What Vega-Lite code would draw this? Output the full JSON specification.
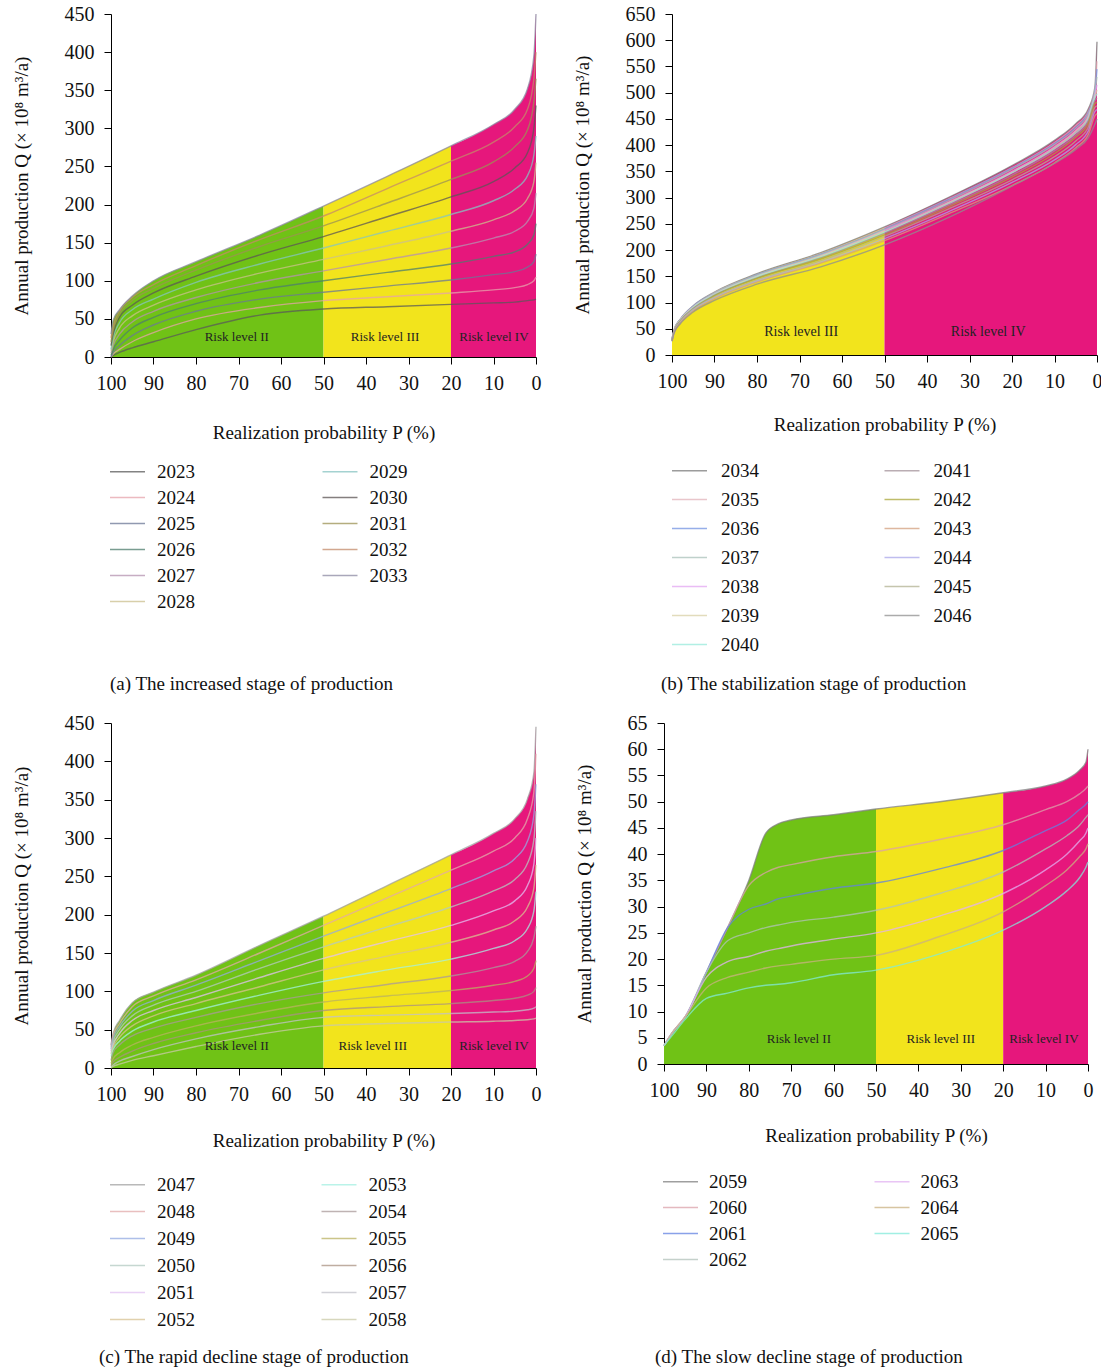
{
"$schema": "https://vega.github.io/schema/vega-lite/v6.json",
"padding": {"left": 12, "top": 4, "right": 0, "bottom": 0},
"config": {
  "font": "Liberation Serif",
  "view": {"stroke": null},
  "axis": {"labelFontSize": 20, "titleFontSize": 19, "titleFontWeight": "normal", "tickSize": 7, "labelPadding": 9, "domainColor": "#000", "tickColor": "#000", "labelColor": "#111", "titleColor": "#111", "grid": false, "labelFlush": false, "labelOverlap": false},
  "axisY": {"labelPadding": 10},
  "legend": {"orient": "none", "columns": 2, "symbolType": "M-2,0H2", "symbolSize": 306, "symbolStrokeWidth": 1.5, "labelFontSize": 19, "labelColor": "#111", "titleOrient": "bottom", "titleAnchor": "start", "titleFontSize": 19, "titleFontWeight": "normal", "titleColor": "#111", "titleLimit": 600, "padding": 0}
},
"resolve": {"scale": {"stroke": "independent", "fill": "independent", "x": "independent", "y": "independent"}, "legend": {"stroke": "independent", "fill": "independent"}},
"datasets": {
"envA": [{"p":100,"q":30,"z":"II"},{"p":99.5,"q":48,"z":"II"},{"p":98,"q":62,"z":"II"},{"p":95,"q":80,"z":"II"},{"p":90,"q":100,"z":"II"},{"p":80,"q":125,"z":"II"},{"p":65,"q":160,"z":"II"},{"p":50,"q":198,"z":"II"},
{"p":50,"q":198,"z":"III"},{"p":35,"q":237,"z":"III"},{"p":20,"q":277,"z":"III"},
{"p":20,"q":277,"z":"IV"},{"p":10,"q":305,"z":"IV"},{"p":5,"q":325,"z":"IV"},{"p":2,"q":352,"z":"IV"},{"p":0.5,"q":395,"z":"IV"},{"p":0,"q":450,"z":"IV"}],
"lblA": [{"p":70.4,"q":26,"t":"Risk level II"},{"p":35.5,"q":26,"t":"Risk level III"},{"p":9.9,"q":26,"t":"Risk level IV"}],
"linA": [
{"p":100,"q":0,"yr":2023},{"p":99.5,"q":2,"yr":2023},{"p":98,"q":6,"yr":2023},{"p":95,"q":12,"yr":2023},{"p":90,"q":20,"yr":2023},{"p":80,"q":36,"yr":2023},{"p":65,"q":55,"yr":2023},{"p":50,"q":63,"yr":2023},{"p":35,"q":66,"yr":2023},{"p":20,"q":69,"yr":2023},{"p":10,"q":71,"yr":2023},{"p":5,"q":72,"yr":2023},{"p":2,"q":74,"yr":2023},{"p":0.5,"q":75,"yr":2023},{"p":0,"q":76,"yr":2023},
{"p":100,"q":0,"yr":2024},{"p":99.5,"q":4,"yr":2024},{"p":98,"q":10,"yr":2024},{"p":95,"q":20,"yr":2024},{"p":90,"q":32,"yr":2024},{"p":80,"q":50,"yr":2024},{"p":65,"q":65,"yr":2024},{"p":50,"q":74,"yr":2024},{"p":35,"q":79,"yr":2024},{"p":20,"q":84,"yr":2024},{"p":10,"q":88,"yr":2024},{"p":5,"q":91,"yr":2024},{"p":2,"q":95,"yr":2024},{"p":0.5,"q":100,"yr":2024},{"p":0,"q":105,"yr":2024},
{"p":100,"q":0,"yr":2025},{"p":99.5,"q":6,"yr":2025},{"p":98,"q":15,"yr":2025},{"p":95,"q":28,"yr":2025},{"p":90,"q":42,"yr":2025},{"p":80,"q":60,"yr":2025},{"p":65,"q":76,"yr":2025},{"p":50,"q":85,"yr":2025},{"p":35,"q":93,"yr":2025},{"p":20,"q":101,"yr":2025},{"p":10,"q":108,"yr":2025},{"p":5,"q":112,"yr":2025},{"p":2,"q":118,"yr":2025},{"p":0.5,"q":125,"yr":2025},{"p":0,"q":135,"yr":2025},
{"p":100,"q":2,"yr":2026},{"p":99.5,"q":10,"yr":2026},{"p":98,"q":22,"yr":2026},{"p":95,"q":38,"yr":2026},{"p":90,"q":52,"yr":2026},{"p":80,"q":70,"yr":2026},{"p":65,"q":88,"yr":2026},{"p":50,"q":100,"yr":2026},{"p":35,"q":111,"yr":2026},{"p":20,"q":122,"yr":2026},{"p":10,"q":132,"yr":2026},{"p":5,"q":138,"yr":2026},{"p":2,"q":148,"yr":2026},{"p":0.5,"q":160,"yr":2026},{"p":0,"q":175,"yr":2026},
{"p":100,"q":5,"yr":2027},{"p":99.5,"q":15,"yr":2027},{"p":98,"q":30,"yr":2027},{"p":95,"q":46,"yr":2027},{"p":90,"q":60,"yr":2027},{"p":80,"q":78,"yr":2027},{"p":65,"q":98,"yr":2027},{"p":50,"q":113,"yr":2027},{"p":35,"q":128,"yr":2027},{"p":20,"q":143,"yr":2027},{"p":10,"q":156,"yr":2027},{"p":5,"q":165,"yr":2027},{"p":2,"q":178,"yr":2027},{"p":0.5,"q":195,"yr":2027},{"p":0,"q":215,"yr":2027},
{"p":100,"q":8,"yr":2028},{"p":99.5,"q":20,"yr":2028},{"p":98,"q":38,"yr":2028},{"p":95,"q":54,"yr":2028},{"p":90,"q":68,"yr":2028},{"p":80,"q":88,"yr":2028},{"p":65,"q":110,"yr":2028},{"p":50,"q":128,"yr":2028},{"p":35,"q":146,"yr":2028},{"p":20,"q":165,"yr":2028},{"p":10,"q":180,"yr":2028},{"p":5,"q":192,"yr":2028},{"p":2,"q":208,"yr":2028},{"p":0.5,"q":230,"yr":2028},{"p":0,"q":255,"yr":2028},
{"p":100,"q":10,"yr":2029},{"p":99.5,"q":25,"yr":2029},{"p":98,"q":45,"yr":2029},{"p":95,"q":62,"yr":2029},{"p":90,"q":76,"yr":2029},{"p":80,"q":98,"yr":2029},{"p":65,"q":122,"yr":2029},{"p":50,"q":143,"yr":2029},{"p":35,"q":165,"yr":2029},{"p":20,"q":187,"yr":2029},{"p":10,"q":205,"yr":2029},{"p":5,"q":220,"yr":2029},{"p":2,"q":238,"yr":2029},{"p":0.5,"q":265,"yr":2029},{"p":0,"q":290,"yr":2029},
{"p":100,"q":15,"yr":2030},{"p":99.5,"q":30,"yr":2030},{"p":98,"q":52,"yr":2030},{"p":95,"q":68,"yr":2030},{"p":90,"q":84,"yr":2030},{"p":80,"q":106,"yr":2030},{"p":65,"q":134,"yr":2030},{"p":50,"q":158,"yr":2030},{"p":35,"q":184,"yr":2030},{"p":20,"q":210,"yr":2030},{"p":10,"q":230,"yr":2030},{"p":5,"q":248,"yr":2030},{"p":2,"q":268,"yr":2030},{"p":0.5,"q":300,"yr":2030},{"p":0,"q":330,"yr":2030},
{"p":100,"q":20,"yr":2031},{"p":99.5,"q":35,"yr":2031},{"p":98,"q":56,"yr":2031},{"p":95,"q":74,"yr":2031},{"p":90,"q":90,"yr":2031},{"p":80,"q":114,"yr":2031},{"p":65,"q":145,"yr":2031},{"p":50,"q":172,"yr":2031},{"p":35,"q":202,"yr":2031},{"p":20,"q":233,"yr":2031},{"p":10,"q":256,"yr":2031},{"p":5,"q":276,"yr":2031},{"p":2,"q":298,"yr":2031},{"p":0.5,"q":335,"yr":2031},{"p":0,"q":365,"yr":2031},
{"p":100,"q":25,"yr":2032},{"p":99.5,"q":40,"yr":2032},{"p":98,"q":60,"yr":2032},{"p":95,"q":78,"yr":2032},{"p":90,"q":95,"yr":2032},{"p":80,"q":120,"yr":2032},{"p":65,"q":154,"yr":2032},{"p":50,"q":185,"yr":2032},{"p":35,"q":221,"yr":2032},{"p":20,"q":257,"yr":2032},{"p":10,"q":282,"yr":2032},{"p":5,"q":302,"yr":2032},{"p":2,"q":325,"yr":2032},{"p":0.5,"q":365,"yr":2032},{"p":0,"q":400,"yr":2032},
{"p":100,"q":30,"yr":2033},{"p":99.5,"q":48,"yr":2033},{"p":98,"q":62,"yr":2033},{"p":95,"q":80,"yr":2033},{"p":90,"q":100,"yr":2033},{"p":80,"q":125,"yr":2033},{"p":65,"q":160,"yr":2033},{"p":50,"q":198,"yr":2033},{"p":35,"q":237,"yr":2033},{"p":20,"q":277,"yr":2033},{"p":10,"q":305,"yr":2033},{"p":5,"q":325,"yr":2033},{"p":2,"q":352,"yr":2033},{"p":0.5,"q":395,"yr":2033},{"p":0,"q":450,"yr":2033}
],
"envB": [{"p":100,"q":30,"z":"III"},{"p":99.5,"q":48,"z":"III"},{"p":98,"q":69,"z":"III"},{"p":95,"q":94,"z":"III"},{"p":90,"q":120,"z":"III"},{"p":80,"q":155,"z":"III"},{"p":65,"q":195,"z":"III"},{"p":50,"q":244,"z":"III"},
{"p":50,"q":244,"z":"IV"},{"p":35,"q":300,"z":"IV"},{"p":20,"q":361,"z":"IV"},{"p":10,"q":409,"z":"IV"},{"p":5,"q":441,"z":"IV"},{"p":2,"q":470,"z":"IV"},{"p":0.5,"q":510,"z":"IV"},{"p":0,"q":597,"z":"IV"}],
"lblB": [{"p":69.6,"q":44,"t":"Risk level III"},{"p":25.6,"q":44,"t":"Risk level IV"}],
"linB": [
{"p":100,"q":30,"yr":2034},{"p":99.5,"q":48,"yr":2034},{"p":98,"q":69,"yr":2034},{"p":95,"q":94,"yr":2034},{"p":90,"q":120,"yr":2034},{"p":80,"q":155,"yr":2034},{"p":65,"q":195,"yr":2034},{"p":50,"q":244,"yr":2034},{"p":35,"q":300,"yr":2034},{"p":20,"q":361,"yr":2034},{"p":10,"q":409,"yr":2034},{"p":5,"q":441,"yr":2034},{"p":2,"q":470,"yr":2034},{"p":0.5,"q":510,"yr":2034},{"p":0,"q":597,"yr":2034},
{"p":100,"q":30,"yr":2035},{"p":99.5,"q":48,"yr":2035},{"p":98,"q":68,"yr":2035},{"p":95,"q":93,"yr":2035},{"p":90,"q":119,"yr":2035},{"p":80,"q":153,"yr":2035},{"p":65,"q":193,"yr":2035},{"p":50,"q":242,"yr":2035},{"p":35,"q":297,"yr":2035},{"p":20,"q":357,"yr":2035},{"p":10,"q":405,"yr":2035},{"p":5,"q":437,"yr":2035},{"p":2,"q":465,"yr":2035},{"p":0.5,"q":505,"yr":2035},{"p":0,"q":560,"yr":2035},
{"p":100,"q":30,"yr":2036},{"p":99.5,"q":47,"yr":2036},{"p":98,"q":68,"yr":2036},{"p":95,"q":93,"yr":2036},{"p":90,"q":118,"yr":2036},{"p":80,"q":153,"yr":2036},{"p":65,"q":192,"yr":2036},{"p":50,"q":240,"yr":2036},{"p":35,"q":296,"yr":2036},{"p":20,"q":356,"yr":2036},{"p":10,"q":403,"yr":2036},{"p":5,"q":434,"yr":2036},{"p":2,"q":463,"yr":2036},{"p":0.5,"q":502,"yr":2036},{"p":0,"q":545,"yr":2036},
{"p":100,"q":29,"yr":2037},{"p":99.5,"q":47,"yr":2037},{"p":98,"q":68,"yr":2037},{"p":95,"q":92,"yr":2037},{"p":90,"q":118,"yr":2037},{"p":80,"q":152,"yr":2037},{"p":65,"q":191,"yr":2037},{"p":50,"q":239,"yr":2037},{"p":35,"q":294,"yr":2037},{"p":20,"q":354,"yr":2037},{"p":10,"q":401,"yr":2037},{"p":5,"q":432,"yr":2037},{"p":2,"q":461,"yr":2037},{"p":0.5,"q":500,"yr":2037},{"p":0,"q":530,"yr":2037},
{"p":100,"q":29,"yr":2038},{"p":99.5,"q":47,"yr":2038},{"p":98,"q":67,"yr":2038},{"p":95,"q":91,"yr":2038},{"p":90,"q":116,"yr":2038},{"p":80,"q":150,"yr":2038},{"p":65,"q":189,"yr":2038},{"p":50,"q":237,"yr":2038},{"p":35,"q":291,"yr":2038},{"p":20,"q":350,"yr":2038},{"p":10,"q":397,"yr":2038},{"p":5,"q":428,"yr":2038},{"p":2,"q":456,"yr":2038},{"p":0.5,"q":495,"yr":2038},{"p":0,"q":515,"yr":2038},
{"p":100,"q":29,"yr":2039},{"p":99.5,"q":46,"yr":2039},{"p":98,"q":67,"yr":2039},{"p":95,"q":91,"yr":2039},{"p":90,"q":116,"yr":2039},{"p":80,"q":150,"yr":2039},{"p":65,"q":188,"yr":2039},{"p":50,"q":235,"yr":2039},{"p":35,"q":290,"yr":2039},{"p":20,"q":348,"yr":2039},{"p":10,"q":395,"yr":2039},{"p":5,"q":426,"yr":2039},{"p":2,"q":454,"yr":2039},{"p":0.5,"q":492,"yr":2039},{"p":0,"q":505,"yr":2039},
{"p":100,"q":29,"yr":2040},{"p":99.5,"q":46,"yr":2040},{"p":98,"q":66,"yr":2040},{"p":95,"q":90,"yr":2040},{"p":90,"q":115,"yr":2040},{"p":80,"q":149,"yr":2040},{"p":65,"q":187,"yr":2040},{"p":50,"q":234,"yr":2040},{"p":35,"q":288,"yr":2040},{"p":20,"q":347,"yr":2040},{"p":10,"q":393,"yr":2040},{"p":5,"q":423,"yr":2040},{"p":2,"q":451,"yr":2040},{"p":0.5,"q":490,"yr":2040},{"p":0,"q":498,"yr":2040},
{"p":100,"q":28,"yr":2041},{"p":99.5,"q":46,"yr":2041},{"p":98,"q":66,"yr":2041},{"p":95,"q":89,"yr":2041},{"p":90,"q":114,"yr":2041},{"p":80,"q":147,"yr":2041},{"p":65,"q":185,"yr":2041},{"p":50,"q":232,"yr":2041},{"p":35,"q":285,"yr":2041},{"p":20,"q":343,"yr":2041},{"p":10,"q":389,"yr":2041},{"p":5,"q":419,"yr":2041},{"p":2,"q":447,"yr":2041},{"p":0.5,"q":485,"yr":2041},{"p":0,"q":490,"yr":2041},
{"p":100,"q":28,"yr":2042},{"p":99.5,"q":45,"yr":2042},{"p":98,"q":65,"yr":2042},{"p":95,"q":88,"yr":2042},{"p":90,"q":113,"yr":2042},{"p":80,"q":146,"yr":2042},{"p":65,"q":183,"yr":2042},{"p":50,"q":229,"yr":2042},{"p":35,"q":282,"yr":2042},{"p":20,"q":339,"yr":2042},{"p":10,"q":384,"yr":2042},{"p":5,"q":415,"yr":2042},{"p":2,"q":442,"yr":2042},{"p":0.5,"q":479,"yr":2042},{"p":0,"q":482,"yr":2042},
{"p":100,"q":28,"yr":2045},{"p":99.5,"q":44,"yr":2045},{"p":98,"q":64,"yr":2045},{"p":95,"q":87,"yr":2045},{"p":90,"q":111,"yr":2045},{"p":80,"q":143,"yr":2045},{"p":65,"q":180,"yr":2045},{"p":50,"q":226,"yr":2045},{"p":35,"q":278,"yr":2045},{"p":20,"q":334,"yr":2045},{"p":10,"q":378,"yr":2045},{"p":5,"q":408,"yr":2045},{"p":2,"q":435,"yr":2045},{"p":0.5,"q":472,"yr":2045},{"p":0,"q":475,"yr":2045},
{"p":100,"q":27,"yr":2044},{"p":99.5,"q":44,"yr":2044},{"p":98,"q":63,"yr":2044},{"p":95,"q":86,"yr":2044},{"p":90,"q":109,"yr":2044},{"p":80,"q":141,"yr":2044},{"p":65,"q":177,"yr":2044},{"p":50,"q":222,"yr":2044},{"p":35,"q":273,"yr":2044},{"p":20,"q":329,"yr":2044},{"p":10,"q":372,"yr":2044},{"p":5,"q":401,"yr":2044},{"p":2,"q":428,"yr":2044},{"p":0.5,"q":464,"yr":2044},{"p":0,"q":468,"yr":2044},
{"p":100,"q":27,"yr":2043},{"p":99.5,"q":43,"yr":2043},{"p":98,"q":62,"yr":2043},{"p":95,"q":84,"yr":2043},{"p":90,"q":107,"yr":2043},{"p":80,"q":139,"yr":2043},{"p":65,"q":175,"yr":2043},{"p":50,"q":218,"yr":2043},{"p":35,"q":269,"yr":2043},{"p":20,"q":323,"yr":2043},{"p":10,"q":366,"yr":2043},{"p":5,"q":395,"yr":2043},{"p":2,"q":421,"yr":2043},{"p":0.5,"q":456,"yr":2043},{"p":0,"q":460,"yr":2043},
{"p":100,"q":26,"yr":2046},{"p":99.5,"q":42,"yr":2046},{"p":98,"q":60,"yr":2046},{"p":95,"q":82,"yr":2046},{"p":90,"q":104,"yr":2046},{"p":80,"q":135,"yr":2046},{"p":65,"q":168,"yr":2046},{"p":50,"q":210,"yr":2046},{"p":35,"q":262,"yr":2046},{"p":20,"q":322,"yr":2046},{"p":10,"q":365,"yr":2046},{"p":5,"q":392,"yr":2046},{"p":2,"q":415,"yr":2046},{"p":0.5,"q":440,"yr":2046},{"p":0,"q":450,"yr":2046}
],
"envC": [{"p":100,"q":30,"z":"II"},{"p":99.5,"q":45,"z":"II"},{"p":98,"q":62,"z":"II"},{"p":95,"q":85,"z":"II"},{"p":90,"q":99,"z":"II"},{"p":80,"q":121,"z":"II"},{"p":65,"q":160,"z":"II"},{"p":50,"q":198,"z":"II"},
{"p":50,"q":198,"z":"III"},{"p":35,"q":238,"z":"III"},{"p":20,"q":278,"z":"III"},
{"p":20,"q":278,"z":"IV"},{"p":10,"q":306,"z":"IV"},{"p":5,"q":325,"z":"IV"},{"p":2,"q":351,"z":"IV"},{"p":0.5,"q":385,"z":"IV"},{"p":0,"q":445,"z":"IV"}],
"lblC": [{"p":70.4,"q":28.7,"t":"Risk level II"},{"p":38.4,"q":28.7,"t":"Risk level III"},{"p":9.9,"q":28.7,"t":"Risk level IV"}],
"linC": [
{"p":100,"q":30,"yr":2047},{"p":99.5,"q":45,"yr":2047},{"p":98,"q":62,"yr":2047},{"p":95,"q":85,"yr":2047},{"p":90,"q":99,"yr":2047},{"p":80,"q":121,"yr":2047},{"p":65,"q":160,"yr":2047},{"p":50,"q":198,"yr":2047},{"p":35,"q":238,"yr":2047},{"p":20,"q":278,"yr":2047},{"p":10,"q":306,"yr":2047},{"p":5,"q":325,"yr":2047},{"p":2,"q":351,"yr":2047},{"p":0.5,"q":385,"yr":2047},{"p":0,"q":445,"yr":2047},
{"p":100,"q":28,"yr":2048},{"p":99.5,"q":42,"yr":2048},{"p":98,"q":58,"yr":2048},{"p":95,"q":80,"yr":2048},{"p":90,"q":94,"yr":2048},{"p":80,"q":115,"yr":2048},{"p":65,"q":150,"yr":2048},{"p":50,"q":186,"yr":2048},{"p":35,"q":222,"yr":2048},{"p":20,"q":258,"yr":2048},{"p":10,"q":283,"yr":2048},{"p":5,"q":300,"yr":2048},{"p":2,"q":325,"yr":2048},{"p":0.5,"q":360,"yr":2048},{"p":0,"q":410,"yr":2048},
{"p":100,"q":25,"yr":2049},{"p":99.5,"q":38,"yr":2049},{"p":98,"q":54,"yr":2049},{"p":95,"q":74,"yr":2049},{"p":90,"q":88,"yr":2049},{"p":80,"q":108,"yr":2049},{"p":65,"q":140,"yr":2049},{"p":50,"q":172,"yr":2049},{"p":35,"q":203,"yr":2049},{"p":20,"q":234,"yr":2049},{"p":10,"q":257,"yr":2049},{"p":5,"q":273,"yr":2049},{"p":2,"q":296,"yr":2049},{"p":0.5,"q":330,"yr":2049},{"p":0,"q":370,"yr":2049},
{"p":100,"q":22,"yr":2050},{"p":99.5,"q":34,"yr":2050},{"p":98,"q":50,"yr":2050},{"p":95,"q":68,"yr":2050},{"p":90,"q":82,"yr":2050},{"p":80,"q":100,"yr":2050},{"p":65,"q":130,"yr":2050},{"p":50,"q":158,"yr":2050},{"p":35,"q":184,"yr":2050},{"p":20,"q":210,"yr":2050},{"p":10,"q":231,"yr":2050},{"p":5,"q":246,"yr":2050},{"p":2,"q":267,"yr":2050},{"p":0.5,"q":298,"yr":2050},{"p":0,"q":335,"yr":2050},
{"p":100,"q":20,"yr":2051},{"p":99.5,"q":30,"yr":2051},{"p":98,"q":45,"yr":2051},{"p":95,"q":62,"yr":2051},{"p":90,"q":75,"yr":2051},{"p":80,"q":92,"yr":2051},{"p":65,"q":118,"yr":2051},{"p":50,"q":143,"yr":2051},{"p":35,"q":165,"yr":2051},{"p":20,"q":186,"yr":2051},{"p":10,"q":205,"yr":2051},{"p":5,"q":218,"yr":2051},{"p":2,"q":238,"yr":2051},{"p":0.5,"q":266,"yr":2051},{"p":0,"q":300,"yr":2051},
{"p":100,"q":18,"yr":2052},{"p":99.5,"q":27,"yr":2052},{"p":98,"q":40,"yr":2052},{"p":95,"q":55,"yr":2052},{"p":90,"q":68,"yr":2052},{"p":80,"q":84,"yr":2052},{"p":65,"q":106,"yr":2052},{"p":50,"q":128,"yr":2052},{"p":35,"q":146,"yr":2052},{"p":20,"q":164,"yr":2052},{"p":10,"q":180,"yr":2052},{"p":5,"q":192,"yr":2052},{"p":2,"q":210,"yr":2052},{"p":0.5,"q":235,"yr":2052},{"p":0,"q":265,"yr":2052},
{"p":100,"q":15,"yr":2053},{"p":99.5,"q":24,"yr":2053},{"p":98,"q":35,"yr":2053},{"p":95,"q":48,"yr":2053},{"p":90,"q":60,"yr":2053},{"p":80,"q":75,"yr":2053},{"p":65,"q":95,"yr":2053},{"p":50,"q":113,"yr":2053},{"p":35,"q":128,"yr":2053},{"p":20,"q":142,"yr":2053},{"p":10,"q":156,"yr":2053},{"p":5,"q":166,"yr":2053},{"p":2,"q":182,"yr":2053},{"p":0.5,"q":205,"yr":2053},{"p":0,"q":230,"yr":2053},
{"p":100,"q":10,"yr":2054},{"p":99.5,"q":20,"yr":2054},{"p":98,"q":30,"yr":2054},{"p":95,"q":42,"yr":2054},{"p":90,"q":52,"yr":2054},{"p":80,"q":66,"yr":2054},{"p":65,"q":84,"yr":2054},{"p":50,"q":98,"yr":2054},{"p":35,"q":109,"yr":2054},{"p":20,"q":120,"yr":2054},{"p":10,"q":131,"yr":2054},{"p":5,"q":139,"yr":2054},{"p":2,"q":152,"yr":2054},{"p":0.5,"q":170,"yr":2054},{"p":0,"q":185,"yr":2054},
{"p":100,"q":6,"yr":2055},{"p":99.5,"q":12,"yr":2055},{"p":98,"q":20,"yr":2055},{"p":95,"q":30,"yr":2055},{"p":90,"q":40,"yr":2055},{"p":80,"q":55,"yr":2055},{"p":65,"q":72,"yr":2055},{"p":50,"q":86,"yr":2055},{"p":35,"q":94,"yr":2055},{"p":20,"q":101,"yr":2055},{"p":10,"q":108,"yr":2055},{"p":5,"q":113,"yr":2055},{"p":2,"q":120,"yr":2055},{"p":0.5,"q":130,"yr":2055},{"p":0,"q":140,"yr":2055},
{"p":100,"q":3,"yr":2056},{"p":99.5,"q":8,"yr":2056},{"p":98,"q":14,"yr":2056},{"p":95,"q":22,"yr":2056},{"p":90,"q":32,"yr":2056},{"p":80,"q":46,"yr":2056},{"p":65,"q":62,"yr":2056},{"p":50,"q":75,"yr":2056},{"p":35,"q":80,"yr":2056},{"p":20,"q":84,"yr":2056},{"p":10,"q":88,"yr":2056},{"p":5,"q":91,"yr":2056},{"p":2,"q":95,"yr":2056},{"p":0.5,"q":100,"yr":2056},{"p":0,"q":105,"yr":2056},
{"p":100,"q":1,"yr":2057},{"p":99.5,"q":4,"yr":2057},{"p":98,"q":9,"yr":2057},{"p":95,"q":15,"yr":2057},{"p":90,"q":24,"yr":2057},{"p":80,"q":38,"yr":2057},{"p":65,"q":54,"yr":2057},{"p":50,"q":66,"yr":2057},{"p":35,"q":69,"yr":2057},{"p":20,"q":71,"yr":2057},{"p":10,"q":73,"yr":2057},{"p":5,"q":74,"yr":2057},{"p":2,"q":76,"yr":2057},{"p":0.5,"q":78,"yr":2057},{"p":0,"q":80,"yr":2057},
{"p":100,"q":0,"yr":2058},{"p":99.5,"q":2,"yr":2058},{"p":98,"q":5,"yr":2058},{"p":95,"q":10,"yr":2058},{"p":90,"q":16,"yr":2058},{"p":80,"q":28,"yr":2058},{"p":65,"q":44,"yr":2058},{"p":50,"q":55,"yr":2058},{"p":35,"q":58,"yr":2058},{"p":20,"q":60,"yr":2058},{"p":10,"q":61,"yr":2058},{"p":5,"q":62,"yr":2058},{"p":2,"q":63,"yr":2058},{"p":0.5,"q":64,"yr":2058},{"p":0,"q":65,"yr":2058}
],
"envD": [{"p":100,"q":3.5,"z":"II"},{"p":98,"q":6,"z":"II"},{"p":95,"q":9,"z":"II"},{"p":90,"q":17.5,"z":"II"},{"p":85,"q":26,"z":"II"},{"p":80,"q":35,"z":"II"},{"p":76,"q":44,"z":"II"},{"p":73,"q":45.8,"z":"II"},{"p":70,"q":46.5,"z":"II"},{"p":60,"q":47.5,"z":"II"},{"p":50,"q":48.6,"z":"II"},
{"p":50,"q":48.6,"z":"III"},{"p":35,"q":50,"z":"III"},{"p":20,"q":51.7,"z":"III"},
{"p":20,"q":51.7,"z":"IV"},{"p":10,"q":53,"z":"IV"},{"p":5,"q":54.3,"z":"IV"},{"p":2,"q":56,"z":"IV"},{"p":0.5,"q":57.5,"z":"IV"},{"p":0,"q":60,"z":"IV"}],
"lblD": [{"p":68.2,"q":4.8,"t":"Risk level II"},{"p":34.7,"q":4.8,"t":"Risk level III"},{"p":10.4,"q":4.8,"t":"Risk level IV"}],
"linD": [
{"p":100,"q":3.5,"yr":2059},{"p":98,"q":6,"yr":2059},{"p":95,"q":9,"yr":2059},{"p":90,"q":17.5,"yr":2059},{"p":85,"q":26,"yr":2059},{"p":80,"q":35,"yr":2059},{"p":76,"q":44,"yr":2059},{"p":73,"q":45.8,"yr":2059},{"p":70,"q":46.5,"yr":2059},{"p":60,"q":47.5,"yr":2059},{"p":50,"q":48.6,"yr":2059},{"p":35,"q":50,"yr":2059},{"p":20,"q":51.7,"yr":2059},{"p":10,"q":53,"yr":2059},{"p":5,"q":54.3,"yr":2059},{"p":2,"q":56,"yr":2059},{"p":0.5,"q":57.5,"yr":2059},{"p":0,"q":60,"yr":2059},
{"p":100,"q":3.5,"yr":2060},{"p":98,"q":6,"yr":2060},{"p":95,"q":9,"yr":2060},{"p":90,"q":17.5,"yr":2060},{"p":85,"q":26,"yr":2060},{"p":80,"q":34,"yr":2060},{"p":76,"q":36.5,"yr":2060},{"p":73,"q":37.5,"yr":2060},{"p":70,"q":38,"yr":2060},{"p":60,"q":39.5,"yr":2060},{"p":50,"q":40.5,"yr":2060},{"p":35,"q":42.8,"yr":2060},{"p":20,"q":45.6,"yr":2060},{"p":10,"q":48.5,"yr":2060},{"p":5,"q":50,"yr":2060},{"p":2,"q":51.5,"yr":2060},{"p":0.5,"q":52.5,"yr":2060},{"p":0,"q":53,"yr":2060},
{"p":100,"q":3.5,"yr":2061},{"p":98,"q":6,"yr":2061},{"p":95,"q":9,"yr":2061},{"p":90,"q":17.5,"yr":2061},{"p":85,"q":26,"yr":2061},{"p":80,"q":29.5,"yr":2061},{"p":76,"q":30.5,"yr":2061},{"p":73,"q":31.5,"yr":2061},{"p":70,"q":32,"yr":2061},{"p":60,"q":33.5,"yr":2061},{"p":50,"q":34.5,"yr":2061},{"p":35,"q":37.2,"yr":2061},{"p":20,"q":40.7,"yr":2061},{"p":10,"q":44.5,"yr":2061},{"p":5,"q":46.5,"yr":2061},{"p":2,"q":48.5,"yr":2061},{"p":0.5,"q":49.5,"yr":2061},{"p":0,"q":50,"yr":2061},
{"p":100,"q":3.5,"yr":2062},{"p":98,"q":6,"yr":2062},{"p":95,"q":9,"yr":2062},{"p":90,"q":17.5,"yr":2062},{"p":85,"q":23.5,"yr":2062},{"p":80,"q":25,"yr":2062},{"p":76,"q":26,"yr":2062},{"p":73,"q":26.5,"yr":2062},{"p":70,"q":27,"yr":2062},{"p":60,"q":28,"yr":2062},{"p":50,"q":29.3,"yr":2062},{"p":35,"q":32.5,"yr":2062},{"p":20,"q":36.6,"yr":2062},{"p":10,"q":41,"yr":2062},{"p":5,"q":43.5,"yr":2062},{"p":2,"q":45.5,"yr":2062},{"p":0.5,"q":47,"yr":2062},{"p":0,"q":47.5,"yr":2062},
{"p":100,"q":3.5,"yr":2063},{"p":98,"q":6,"yr":2063},{"p":95,"q":9,"yr":2063},{"p":90,"q":16.5,"yr":2063},{"p":85,"q":19.5,"yr":2063},{"p":80,"q":20.5,"yr":2063},{"p":76,"q":21.5,"yr":2063},{"p":73,"q":22,"yr":2063},{"p":70,"q":22.5,"yr":2063},{"p":60,"q":23.8,"yr":2063},{"p":50,"q":25,"yr":2063},{"p":35,"q":28.2,"yr":2063},{"p":20,"q":32.5,"yr":2063},{"p":10,"q":37,"yr":2063},{"p":5,"q":40,"yr":2063},{"p":2,"q":42.5,"yr":2063},{"p":0.5,"q":44,"yr":2063},{"p":0,"q":45,"yr":2063},
{"p":100,"q":3.5,"yr":2064},{"p":98,"q":6,"yr":2064},{"p":95,"q":9,"yr":2064},{"p":90,"q":14.5,"yr":2064},{"p":85,"q":16.5,"yr":2064},{"p":80,"q":17.5,"yr":2064},{"p":76,"q":18.3,"yr":2064},{"p":73,"q":18.7,"yr":2064},{"p":70,"q":19,"yr":2064},{"p":60,"q":20,"yr":2064},{"p":50,"q":20.7,"yr":2064},{"p":35,"q":24.3,"yr":2064},{"p":20,"q":29,"yr":2064},{"p":10,"q":34,"yr":2064},{"p":5,"q":37,"yr":2064},{"p":2,"q":39.5,"yr":2064},{"p":0.5,"q":41,"yr":2064},{"p":0,"q":42,"yr":2064},
{"p":100,"q":3.5,"yr":2065},{"p":98,"q":5.5,"yr":2065},{"p":95,"q":8.5,"yr":2065},{"p":90,"q":12.5,"yr":2065},{"p":85,"q":13.5,"yr":2065},{"p":80,"q":14.5,"yr":2065},{"p":76,"q":15,"yr":2065},{"p":73,"q":15.2,"yr":2065},{"p":70,"q":15.5,"yr":2065},{"p":60,"q":17,"yr":2065},{"p":50,"q":17.9,"yr":2065},{"p":35,"q":21,"yr":2065},{"p":20,"q":25.5,"yr":2065},{"p":10,"q":30,"yr":2065},{"p":5,"q":33,"yr":2065},{"p":2,"q":35.5,"yr":2065},{"p":0.5,"q":37.5,"yr":2065},{"p":0,"q":38.5,"yr":2065}
]
},
"spacing": 19,
"vconcat": [
{"hconcat": [
 {"width": 425, "height": 343,
  "encoding": {
   "x": {"field": "p", "type": "quantitative", "scale": {"domain": [100, 0]}, "axis": {"values": [100,90,80,70,60,50,40,30,20,10,0], "labelOverlap": false, "titlePadding": 30}, "title": "Realization probability P (%)"},
   "y": {"field": "q", "type": "quantitative", "stack": null, "scale": {"domain": [0, 450], "nice": false}, "axis": {"values": [0,50,100,150,200,250,300,350,400,450], "labelOverlap": false, "titlePadding": 33}, "title": "Annual production Q (× 10⁸ m³/a)"}},
  "layer": [
   {"data": {"name": "envA"}, "mark": {"type": "area", "interpolate": "monotone"},
    "encoding": {"fill": {"field": "z", "type": "nominal", "scale": {"domain": ["II","III","IV"], "range": ["#70c216","#f2e41c","#e6177c"]}, "legend": null}}},
   {"data": {"name": "linA"}, "mark": {"type": "line", "interpolate": "monotone", "strokeWidth": 1.4, "opacity": 0.75},
    "encoding": {"stroke": {"field": "yr", "type": "nominal",
       "scale": {"domain": [2023,2024,2025,2026,2027,2028,2029,2030,2031,2032,2033], "range": ["#5a5a5a","#e6a3ab","#6b7896","#4d7d6d","#b592b0","#cbc08e","#86c4c2","#5c5555","#9c9254","#c48a6a","#8d8aa3"]},
       "legend": {"legendX": -1, "legendY": 448, "symbolOffset": 8, "labelOffset": 20, "columnPadding": 124.5, "rowPadding": 6, "title": "(a) The increased stage of production", "titlePadding": 63}}}},
   {"data": {"name": "lblA"}, "mark": {"type": "text", "fontSize": 13, "color": "#222"},
    "encoding": {"text": {"field": "t"}}}
  ]},
 {"width": 425, "height": 341,
  "encoding": {
   "x": {"field": "p", "type": "quantitative", "scale": {"domain": [100, 0]}, "axis": {"values": [100,90,80,70,60,50,40,30,20,10,0], "labelOverlap": false, "titlePadding": 24}, "title": "Realization probability P (%)"},
   "y": {"field": "q", "type": "quantitative", "stack": null, "scale": {"domain": [0, 650], "nice": false}, "axis": {"values": [0,50,100,150,200,250,300,350,400,450,500,550,600,650], "labelOverlap": false, "titlePadding": 33}, "title": "Annual production Q (× 10⁸ m³/a)"}},
  "layer": [
   {"data": {"name": "envB"}, "mark": {"type": "area", "interpolate": "monotone"},
    "encoding": {"fill": {"field": "z", "type": "nominal", "scale": {"domain": ["III","IV"], "range": ["#f2e41c","#e6177c"]}, "legend": null}}},
   {"data": {"name": "linB"}, "mark": {"type": "line", "interpolate": "monotone", "strokeWidth": 1.4, "opacity": 0.75},
    "encoding": {"stroke": {"field": "yr", "type": "nominal",
       "scale": {"domain": [2034,2035,2036,2037,2038,2039,2040,2041,2042,2043,2044,2045,2046], "range": ["#7b7b7b","#e2b4ba","#7394e2","#aac2ba","#e4a6f2","#d9d1a6","#98eadc","#a3929a","#aaa83a","#d4a07e","#aaa8ea","#b2b292","#8f8f8f"]},
       "legend": {"legendX": -11, "legendY": 447, "symbolOffset": 19, "labelOffset": 22, "columnPadding": 114.5, "rowPadding": 9, "title": "(b) The stabilization stage of production", "titlePadding": 20}}}},
   {"data": {"name": "lblB"}, "mark": {"type": "text", "fontSize": 14, "color": "#222"},
    "encoding": {"text": {"field": "t"}}}
  ]}
 ], "spacing": 136, "bounds": "flush",
 "resolve": {"scale": {"stroke": "independent", "fill": "independent", "x": "independent", "y": "independent"}, "legend": {"stroke": "independent", "fill": "independent"}}},
{"hconcat": [
 {"width": 425, "height": 345,
  "encoding": {
   "x": {"field": "p", "type": "quantitative", "scale": {"domain": [100, 0]}, "axis": {"values": [100,90,80,70,60,50,40,30,20,10,0], "labelOverlap": false, "titlePadding": 27}, "title": "Realization probability P (%)"},
   "y": {"field": "q", "type": "quantitative", "stack": null, "scale": {"domain": [0, 450], "nice": false}, "axis": {"values": [0,50,100,150,200,250,300,350,400,450], "labelOverlap": false, "titlePadding": 33}, "title": "Annual production Q (× 10⁸ m³/a)"}},
  "layer": [
   {"data": {"name": "envC"}, "mark": {"type": "area", "interpolate": "monotone"},
    "encoding": {"fill": {"field": "z", "type": "nominal", "scale": {"domain": ["II","III","IV"], "range": ["#70c216","#f2e41c","#e6177c"]}, "legend": null}}},
   {"data": {"name": "linC"}, "mark": {"type": "line", "interpolate": "monotone", "strokeWidth": 1.4, "opacity": 0.75},
    "encoding": {"stroke": {"field": "yr", "type": "nominal",
       "scale": {"domain": [2047,2048,2049,2050,2051,2052,2053,2054,2055,2056,2057,2058], "range": ["#a2a2a2","#e2aaaa","#94aae2","#b4cac2","#e2c2f2","#d8c292","#a4f0e2","#aa9a9a","#bab262","#aa9282","#c2c2ca","#cacaa8"]},
       "legend": {"legendX": -12, "legendY": 452, "symbolOffset": 19, "labelOffset": 20, "columnPadding": 115.5, "rowPadding": 7, "title": "(c) The rapid decline stage of production", "titlePadding": 18}}}},
   {"data": {"name": "lblC"}, "mark": {"type": "text", "fontSize": 13, "color": "#222"},
    "encoding": {"text": {"field": "t"}}}
  ]},
 {"width": 424, "height": 341,
  "encoding": {
   "x": {"field": "p", "type": "quantitative", "scale": {"domain": [100, 0]}, "axis": {"values": [100,90,80,70,60,50,40,30,20,10,0], "labelOverlap": false, "titlePadding": 26}, "title": "Realization probability P (%)"},
   "y": {"field": "q", "type": "quantitative", "stack": null, "scale": {"domain": [0, 65], "nice": false}, "axis": {"values": [0,5,10,15,20,25,30,35,40,45,50,55,60,65], "labelOverlap": false, "titlePadding": 33}, "title": "Annual production Q (× 10⁸ m³/a)"}},
  "layer": [
   {"data": {"name": "envD"}, "mark": {"type": "area", "interpolate": "monotone"},
    "encoding": {"fill": {"field": "z", "type": "nominal", "scale": {"domain": ["II","III","IV"], "range": ["#70c216","#f2e41c","#e6177c"]}, "legend": null}}},
   {"data": {"name": "linD"}, "mark": {"type": "line", "interpolate": "monotone", "strokeWidth": 1.4, "opacity": 0.75},
    "encoding": {"stroke": {"field": "yr", "type": "nominal",
       "scale": {"domain": [2059,2060,2061,2062,2063,2064,2065], "range": ["#808080","#dba2aa","#6282e2","#b2c2ba","#e2b2f2","#cab282","#82eada"]},
       "legend": {"legendX": -9, "legendY": 449, "symbolOffset": 16, "labelOffset": 19, "columnPadding": 119.5, "rowPadding": 6, "title": "(d) The slow decline stage of production", "titlePadding": 78}}}},
   {"data": {"name": "lblD"}, "mark": {"type": "text", "fontSize": 13, "color": "#222"},
    "encoding": {"text": {"field": "t"}}}
  ]}
 ], "spacing": 128, "bounds": "flush",
 "resolve": {"scale": {"stroke": "independent", "fill": "independent", "x": "independent", "y": "independent"}, "legend": {"stroke": "independent", "fill": "independent"}}}
]
}
